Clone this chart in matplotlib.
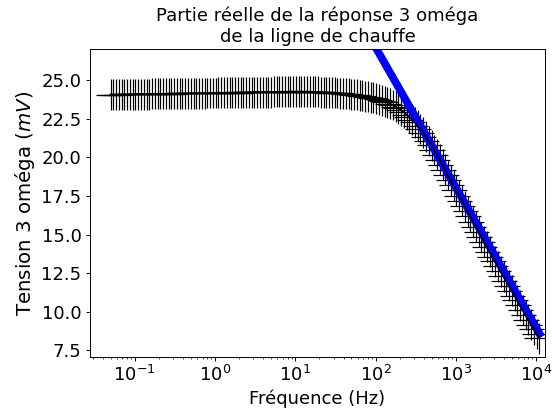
import numpy as np
import matplotlib
matplotlib.use("Agg")
import matplotlib.pyplot as plt

plt.rcParams['font.size'] = 15

# balayage en frequence (Hz), 156 points log
f_min, f_max, n_pts = 0.05, 11000, 156
freq = np.geomspace(f_min, f_max, n_pts)

# partie reelle mesuree (mV)
v3w = [
    24.05, 24.05, 24.06, 24.06, 24.06, 24.07, 24.07, 24.07, 24.07, 24.08,
    24.08, 24.08, 24.09, 24.09, 24.09, 24.10, 24.10, 24.10, 24.10, 24.11,
    24.11, 24.11, 24.12, 24.12, 24.12, 24.13, 24.13, 24.13, 24.13, 24.14,
    24.14, 24.14, 24.15, 24.15, 24.15, 24.16, 24.16, 24.16, 24.16, 24.17,
    24.17, 24.17, 24.18, 24.18, 24.18, 24.19, 24.19, 24.19, 24.19, 24.20,
    24.20, 24.20, 24.21, 24.21, 24.21, 24.22, 24.22, 24.22, 24.22, 24.23,
    24.23, 24.23, 24.24, 24.24, 24.24, 24.25, 24.25, 24.25,
    24.25, 24.25, 24.25, 24.25, 24.24, 24.24, 24.23, 24.23, 24.22, 24.21,
    24.20, 24.19, 24.18, 24.17, 24.16, 24.15, 24.13, 24.12, 24.10, 24.08,
    24.06, 24.04, 24.01, 23.99, 23.96, 23.93, 23.89, 23.85, 23.81, 23.76,
    23.70, 23.63, 23.56, 23.47, 23.38, 23.27, 23.16, 23.03, 22.90, 22.75,
    22.60, 22.43, 22.25, 22.04, 21.83, 21.58, 21.33, 21.05, 20.77, 20.47,
    20.16, 19.84, 19.51, 19.18, 18.85, 18.52, 18.18, 17.85, 17.51, 17.18,
    16.84, 16.51, 16.17, 15.84, 15.50, 15.17, 14.84, 14.52, 14.20, 13.89,
    13.57, 13.26, 12.94, 12.63, 12.31, 12.00, 11.68, 11.37, 11.05, 10.74,
    10.42, 10.11, 9.79, 9.48, 9.17, 8.87, 8.56, 8.27,
]

err_v = 1.0        # incertitude tension (mV)
err_f_rel = 0.35   # incertitude relative sur f

# ajustement lineaire en log(f) sur la partie haute frequence
pente = -9.08
ordonnee = 45.28
f_fit_min = 100

fig = plt.figure(figsize=(6.4, 4.8), dpi=86.25)
ax = fig.add_axes([0.163, 0.1384, 0.8243, 0.7426])

ax.errorbar(freq, v3w, yerr=err_v, xerr=err_f_rel * freq, fmt='k-',
            elinewidth=1.0)
ff = freq[freq >= f_fit_min]
ax.plot(ff, ordonnee + pente * np.log10(ff), 'b-', lw=6.5)

ax.set_xscale('log')
ax.set_xlim(10 ** -1.557, 10 ** 4.11)
ax.set_ylim(7.09, 26.99)
ax.set_xlabel('Fréquence (Hz)', fontsize=15)
ax.set_ylabel('Tension 3 oméga ($mV$)', fontsize=16.5)
ax.set_title('Partie réelle de la réponse 3 oméga\nde la ligne de chauffe',
             fontsize=15)

fig.savefig('out.png', dpi=86.25)
